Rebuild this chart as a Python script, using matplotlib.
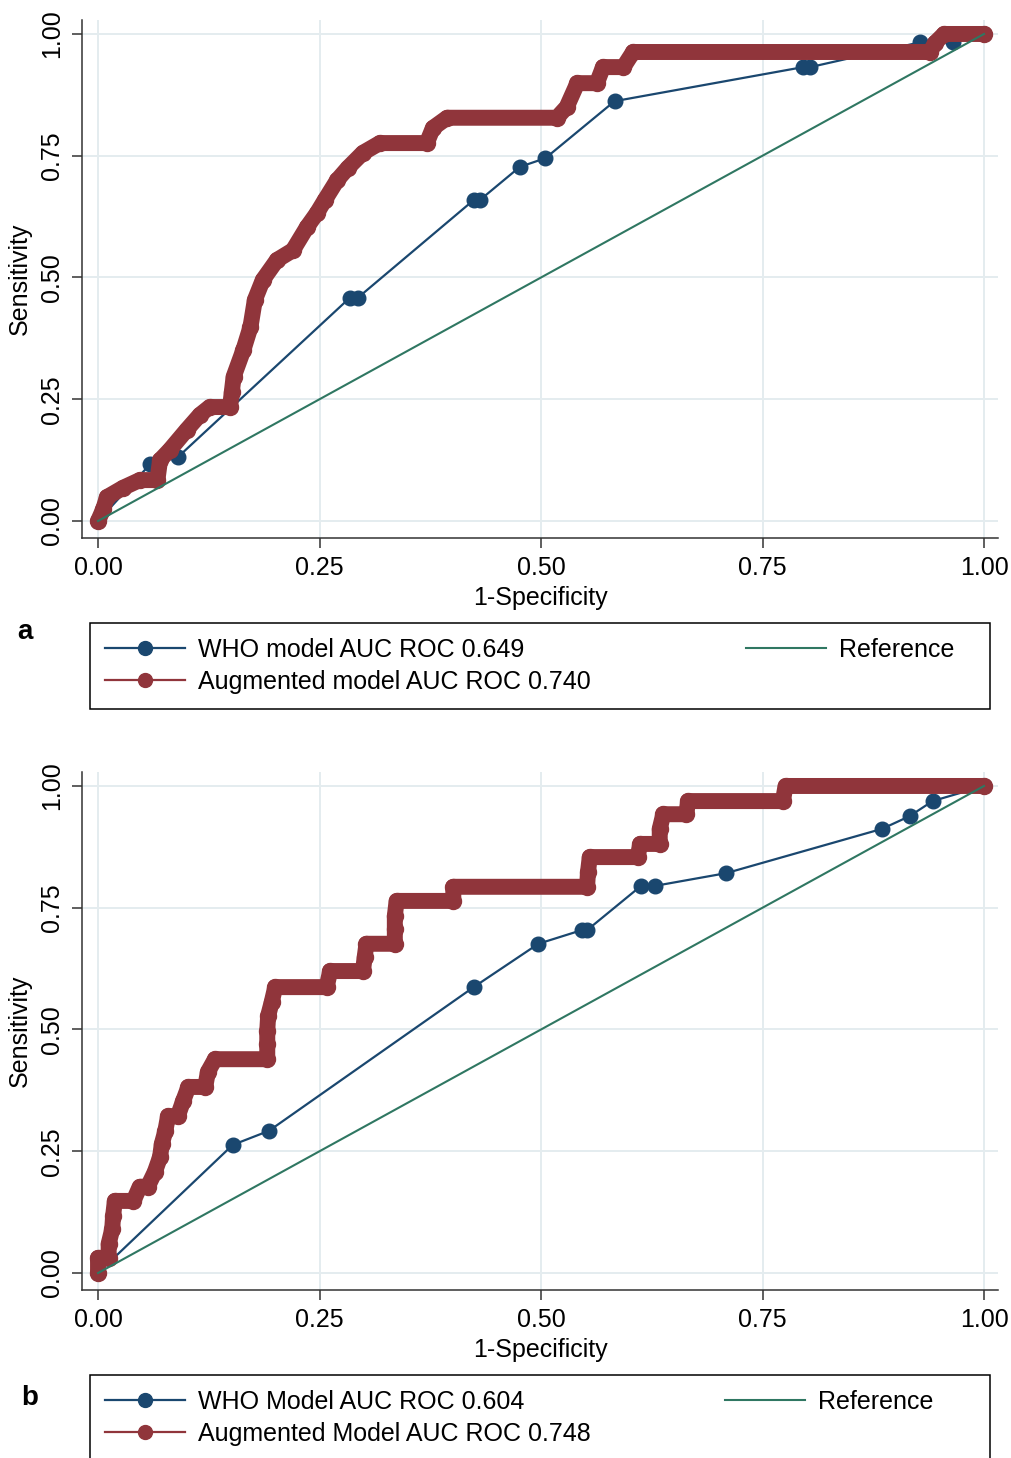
import matplotlib
matplotlib.use('Agg')
import matplotlib.pyplot as plt
from matplotlib.lines import Line2D

plt.rcParams['font.family'] = ['Liberation Sans', 'DejaVu Sans']

# ---- panel a ----
who_a_x = [0.000, 0.059, 0.090, 0.284, 0.293, 0.424, 0.431, 0.476, 0.505, 0.583,
           0.796, 0.804, 0.928, 0.965, 1.000]
who_a_y = [0.000, 0.117, 0.131, 0.458, 0.458, 0.659, 0.659, 0.727, 0.745, 0.862,
           0.932, 0.932, 0.983, 0.983, 1.000]
aug_a_x = [0.000, 0.006, 0.010, 0.028, 0.047, 0.067, 0.070, 0.081, 0.100, 0.115,
           0.126, 0.149, 0.151, 0.153, 0.164, 0.172, 0.177, 0.186, 0.202, 0.220,
           0.236, 0.247, 0.256, 0.270, 0.282, 0.299, 0.318, 0.371, 0.378, 0.394,
           0.518, 0.529, 0.541, 0.563, 0.570, 0.593, 0.604, 0.939, 0.945, 0.955,
           1.000]
aug_a_y = [0.000, 0.025, 0.049, 0.068, 0.084, 0.084, 0.125, 0.146, 0.187, 0.218,
           0.234, 0.234, 0.265, 0.296, 0.351, 0.398, 0.454, 0.495, 0.536, 0.556,
           0.604, 0.632, 0.659, 0.700, 0.725, 0.756, 0.776, 0.776, 0.807, 0.828,
           0.828, 0.850, 0.899, 0.899, 0.932, 0.932, 0.963, 0.963, 0.982, 1.000,
           1.000]
labels_a = ['WHO model AUC ROC 0.649', 'Augmented model AUC ROC 0.740', 'Reference   ']

# ---- panel b ----
who_b_x = [0.000, 0.152, 0.193, 0.424, 0.497, 0.546, 0.552, 0.613, 0.629, 0.709,
           0.885, 0.916, 0.942, 1.000]
who_b_y = [0.000, 0.263, 0.292, 0.587, 0.676, 0.704, 0.704, 0.795, 0.795, 0.821,
           0.912, 0.938, 0.969, 1.000]
aug_b_x = [0.000, 0.000, 0.012, 0.012, 0.016, 0.017, 0.019, 0.040, 0.047, 0.056,
           0.064, 0.070, 0.072, 0.076, 0.079, 0.090, 0.096, 0.102, 0.121, 0.124,
           0.132, 0.191, 0.191, 0.191, 0.192, 0.196, 0.200, 0.258, 0.262, 0.299,
           0.301, 0.303, 0.335, 0.335, 0.335, 0.337, 0.401, 0.401, 0.552, 0.553,
           0.555, 0.609, 0.612, 0.634, 0.634, 0.638, 0.664, 0.666, 0.773, 0.776,
           1.000]
aug_b_y = [0.000, 0.031, 0.031, 0.060, 0.090, 0.117, 0.148, 0.148, 0.177, 0.177,
           0.207, 0.238, 0.265, 0.292, 0.322, 0.322, 0.353, 0.382, 0.382, 0.413,
           0.439, 0.439, 0.470, 0.497, 0.528, 0.556, 0.587, 0.587, 0.620, 0.620,
           0.649, 0.676, 0.676, 0.706, 0.733, 0.764, 0.764, 0.793, 0.793, 0.823,
           0.854, 0.854, 0.881, 0.881, 0.912, 0.942, 0.942, 0.969, 0.969, 1.000,
           1.000]
labels_b = ['WHO Model AUC ROC 0.604', 'Augmented Model AUC ROC 0.748', 'Reference      ']

ref_x = [0.0, 1.0]
ref_y = [0.0, 1.0]
ticks = [0.0, 0.25, 0.5, 0.75, 1.0]

BLUE = '#1a476f'
RED = '#90353b'
GREEN = '#2f7762'
GRID = '#e4ecef'
FS = 18

W, H = 1011, 1458
fig = plt.figure(figsize=(W / 100, H / 100), dpi=100)


def px_box(left, top, right, bottom):
    return [left / W, 1 - bottom / H, (right - left) / W, (bottom - top) / H]


def draw_panel(top, who_x, who_y, aug_x, aug_y, labels, letter, letter_xy):
    ax = fig.add_axes(px_box(82, top, 998, top + 518))
    ax.plot(who_x, who_y, color=BLUE, lw=1.6, marker='o', ms=10.5, zorder=3)
    ax.plot(aug_x, aug_y, color=RED, lw=11.5, marker='o', ms=11.5,
            solid_capstyle='round', solid_joinstyle='round', zorder=4)
    ax.plot(ref_x, ref_y, color=GREEN, lw=1.5, zorder=5)

    ax.set_xlim(-0.0181, 1.0158)
    ax.set_ylim(-0.0349, 1.0287)
    ax.set_xticks(ticks)
    ax.set_yticks(ticks)
    ax.set_xticklabels(['%.2f' % t for t in ticks], fontsize=FS)
    ax.set_yticklabels(['%.2f' % t for t in ticks], fontsize=FS,
                       rotation=90, va='center')
    ax.tick_params(length=7, width=1.1, pad=6, color='#333333')
    ax.grid(True, color=GRID, lw=1.4)
    ax.set_axisbelow(True)
    for s in ['top', 'right']:
        ax.spines[s].set_visible(False)
    for s in ['left', 'bottom']:
        ax.spines[s].set_color('#333333')
        ax.spines[s].set_linewidth(1.1)
    ax.set_xlabel('1-Specificity', fontsize=FS, labelpad=4)
    ax.set_ylabel('Sensitivity', fontsize=FS, labelpad=6)

    handles = [Line2D([], [], color=BLUE, lw=1.6, marker='o', ms=10),
               Line2D([], [], color=RED, lw=1.6, marker='o', ms=10),
               Line2D([], [], color=GREEN, lw=1.5)]
    leg_top = top + 518 + 85
    leg = fig.legend(handles, labels, loc='upper left', ncol=2, mode='expand',
                     bbox_to_anchor=(90 / W, 1 - leg_top / H - 0.001, 900 / W, 0.001),
                     borderaxespad=0, fontsize=FS, numpoints=1, handlelength=3.2,
                     handletextpad=0.5, borderpad=0.6, labelspacing=0.32,
                     fancybox=False, framealpha=1, edgecolor='black')
    leg.get_frame().set_linewidth(1.1)

    fig.text(letter_xy[0] / W, 1 - letter_xy[1] / H, letter, fontsize=20,
             weight='bold', ha='center', va='center')


draw_panel(20, who_a_x, who_a_y, aug_a_x, aug_a_y, labels_a, 'a', (25, 632))
draw_panel(772, who_b_x, who_b_y, aug_b_x, aug_b_y, labels_b, 'b', (30, 1398))

fig.savefig('out.png', dpi=100)
